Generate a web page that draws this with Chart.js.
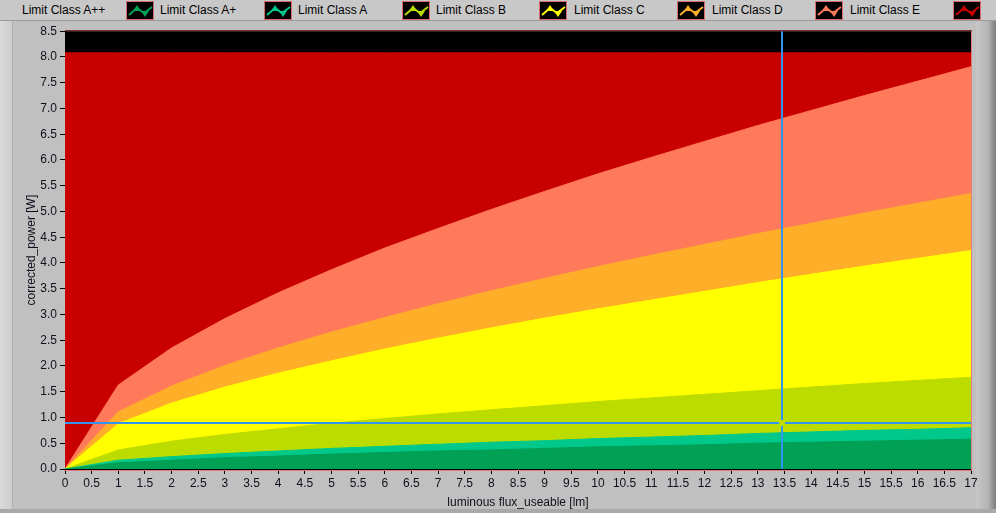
<!DOCTYPE html>
<html>
<head>
<meta charset="utf-8">
<script src="https://cdn.jsdelivr.net/npm/chart.js@4.4.1/dist/chart.umd.min.js"></script>
<style>
  html, body { margin: 0; padding: 0; }
  body { width: 996px; height: 513px; background: #c0c0c0; overflow: hidden; position: relative;
         font-family: "Liberation Sans", Arial, sans-serif; }
  #leftStrip { position: absolute; left: 0; top: 0; width: 12px; height: 513px;
               background: linear-gradient(to right, #dadada, #cdcdcd); border-right: 1px solid #b2b2b2; }
  #rightStrip { position: absolute; right: 0; top: 0; width: 20px; height: 513px;
                background: linear-gradient(to right, #c6c6c6, #b4b4b4 60%, #7c7c7c); }
  #bottomLine { position: absolute; left: 0; top: 509px; width: 996px; height: 4px; background: #a9a9a9; }
  #legend { position: absolute; left: 0; top: 0; width: 996px; height: 20px; background: #c8c8c8;
            border-bottom: 1px solid #9c9c9c; }
  .lg-text { position: absolute; top: 3px; font-size: 12px; color: #000; white-space: nowrap; }
  .lg-sw { position: absolute; top: 1px; }
  #wrap { position: absolute; left: 0; top: 21px; width: 996px; height: 492px; }
</style>
</head>
<body>
<div id="leftStrip"></div>
<div id="rightStrip"></div>
<div id="bottomLine"></div>
<div id="legend"></div>
<div id="wrap"><canvas id="chart" width="996" height="492"></canvas></div>
<script>
// values
const fluxLm = [0, 1, 2, 3, 4, 5, 6, 7, 8, 9, 10, 11, 12, 13, 14, 15, 16, 17];
const limitAPlusPlus = [0, 0.12, 0.17, 0.22, 0.25, 0.29, 0.32, 0.35, 0.37, 0.40, 0.43, 0.45, 0.47, 0.50, 0.52, 0.54, 0.56, 0.58];
const limitAPlus = [0, 0.17, 0.24, 0.30, 0.35, 0.40, 0.44, 0.48, 0.52, 0.55, 0.59, 0.62, 0.65, 0.69, 0.72, 0.75, 0.77, 0.80];
const limitA = [0, 0.37, 0.54, 0.67, 0.78, 0.89, 0.98, 1.07, 1.15, 1.23, 1.31, 1.38, 1.45, 1.52, 1.59, 1.66, 1.72, 1.78];
const limitB = [0, 0.88, 1.28, 1.59, 1.86, 2.10, 2.33, 2.54, 2.74, 2.93, 3.11, 3.28, 3.45, 3.62, 3.78, 3.94, 4.09, 4.24];
const limitC = [0, 1.11, 1.61, 2.01, 2.35, 2.66, 2.94, 3.21, 3.46, 3.70, 3.93, 4.15, 4.36, 4.57, 4.77, 4.97, 5.16, 5.35];
const limitD = [0, 1.63, 2.35, 2.92, 3.42, 3.87, 4.29, 4.67, 5.04, 5.39, 5.73, 6.05, 6.36, 6.67, 6.96, 7.25, 7.53, 7.81];
const limitE = [8.08, 8.08, 8.08, 8.08, 8.08, 8.08, 8.08, 8.08, 8.08, 8.08, 8.08, 8.08, 8.08, 8.08, 8.08, 8.08, 8.08, 8.08];

const seriesNames = ['Limit Class A++', 'Limit Class A+', 'Limit Class A', 'Limit Class B',
                     'Limit Class C', 'Limit Class D', 'Limit Class E'];
const seriesValues = [limitAPlusPlus, limitAPlus, limitA, limitB, limitC, limitD, limitE];
const seriesColors = ['#00a055', '#00c88a', '#bcdc00', '#ffff00', '#ffae2a', '#ff7a5a', '#c80000'];

// cursor position
const cursorFlux = 13.45;
const cursorPower = 0.9;

const FONT = '"Liberation Sans", Arial, sans-serif';
const TEXT_COL = '#10101c';

// black plot background
const plotBg = {
  id: 'plotBg',
  beforeDatasetsDraw(chart) {
    const a = chart.chartArea;
    const ctx = chart.ctx;
    ctx.save();
    ctx.fillStyle = '#000';
    ctx.fillRect(a.left, a.top, a.right - a.left, a.bottom - a.top);
    ctx.restore();
  }
};

// cross-hair cursor + frame
const cursorPlugin = {
  id: 'cursor',
  afterDatasetsDraw(chart) {
    const a = chart.chartArea;
    const ctx = chart.ctx;
    const cx = Math.round(chart.scales.x.getPixelForValue(cursorFlux));
    const cy = Math.round(chart.scales.y.getPixelForValue(cursorPower));
    ctx.save();
    ctx.strokeStyle = '#3296f0';
    ctx.lineWidth = 2;
    const gap = 3;
    ctx.beginPath();
    ctx.moveTo(cx, a.top); ctx.lineTo(cx, cy - gap);
    ctx.moveTo(cx, cy + gap); ctx.lineTo(cx, a.bottom);
    ctx.moveTo(a.left, cy); ctx.lineTo(cx - gap, cy);
    ctx.moveTo(cx + gap, cy); ctx.lineTo(a.right, cy);
    ctx.stroke();
    ctx.fillStyle = '#d8d800';
    ctx.fillRect(cx - 1, cy - 1, 2, 2);
    // frame
    ctx.lineWidth = 1;
    ctx.strokeStyle = '#e47c7c';
    ctx.beginPath();
    ctx.moveTo(a.right + 0.5, a.top - 1);
    ctx.lineTo(a.right + 0.5, a.bottom + 1.5);
    ctx.lineTo(a.left - 1, a.bottom + 1.5);
    ctx.stroke();
    ctx.strokeStyle = '#701010';
    ctx.beginPath();
    ctx.moveTo(a.left, a.top - 0.5);
    ctx.lineTo(a.right + 1, a.top - 0.5);
    ctx.stroke();
    ctx.restore();
  }
};

const datasets = seriesValues.map((vals, i) => ({
  label: seriesNames[i],
  data: fluxLm.map((x, j) => ({ x: x, y: vals[j] })),
  borderColor: seriesColors[i],
  backgroundColor: seriesColors[i],
  borderWidth: 1,
  pointRadius: 0,
  tension: 0,
  fill: 'origin'
}));

const chart = new Chart(document.getElementById('chart').getContext('2d'), {
  type: 'line',
  data: { datasets: datasets },
  options: {
    responsive: false,
    animation: false,
    devicePixelRatio: 1,
    layout: { padding: { top: 10, right: 25, left: 0, bottom: 0 } },
    plugins: { legend: { display: false }, tooltip: { enabled: false } },
    scales: {
      x: {
        type: 'linear', min: 0, max: 17,
        afterFit: s => { s.height = 44; },
        border: { color: '#000', width: 1 },
        grid: { drawOnChartArea: false, drawTicks: true, tickLength: 5, color: '#000' },
        ticks: { stepSize: 0.5, autoSkip: false, maxRotation: 0, padding: 2, color: TEXT_COL,
                 font: { size: 12, family: FONT }, callback: v => String(v) },
        title: { display: true, text: 'luminous flux_useable [lm]', color: TEXT_COL,
                 font: { size: 12, family: FONT }, padding: { top: 0, bottom: 3 } }
      },
      y: {
        min: 0, max: 8.5,
        afterFit: s => { s.width = 65; },
        border: { color: '#300000', width: 1 },
        grid: { drawOnChartArea: false, drawTicks: true, tickLength: 5, color: '#000' },
        ticks: { stepSize: 0.5, padding: 3, color: TEXT_COL, font: { size: 12, family: FONT },
                 callback: v => Number(v).toFixed(1) },
        title: { display: true, text: 'corrected_power [W]', color: TEXT_COL,
                 font: { size: 12, family: FONT }, padding: { top: 24, bottom: 0 } }
      }
    }
  },
  plugins: [plotBg, cursorPlugin]
});

// LabVIEW-like legend: label followed by a swatch
function drawSwatch(cv, color) {
  const c = cv.getContext('2d');
  c.fillStyle = '#000';
  c.fillRect(0, 0, 28, 19);
  c.strokeStyle = '#d86a6a';
  c.lineWidth = 1;
  c.strokeRect(0.5, 0.5, 27, 18);
  c.strokeStyle = color;
  c.fillStyle = color;
  c.lineWidth = 2;
  c.beginPath();
  c.moveTo(3, 14); c.lineTo(11, 7); c.lineTo(18, 12); c.lineTo(26, 6);
  c.stroke();
  c.beginPath();
  c.moveTo(11, 4); c.lineTo(15, 10); c.lineTo(7, 10); c.closePath(); c.fill();
  c.beginPath();
  c.moveTo(15, 10); c.lineTo(23, 10); c.lineTo(19, 16); c.closePath(); c.fill();
}

const legendEl = document.getElementById('legend');
chart.data.datasets.forEach((ds, i) => {
  const t = document.createElement('span');
  t.className = 'lg-text';
  t.style.left = (22 + i * 138) + 'px';
  t.textContent = ds.label;
  legendEl.appendChild(t);
  const sw = document.createElement('canvas');
  sw.className = 'lg-sw';
  sw.width = 28; sw.height = 19;
  sw.style.left = Math.round(126 + i * 137.8) + 'px';
  drawSwatch(sw, ds.borderColor);
  legendEl.appendChild(sw);
});
</script>
</body>
</html>
